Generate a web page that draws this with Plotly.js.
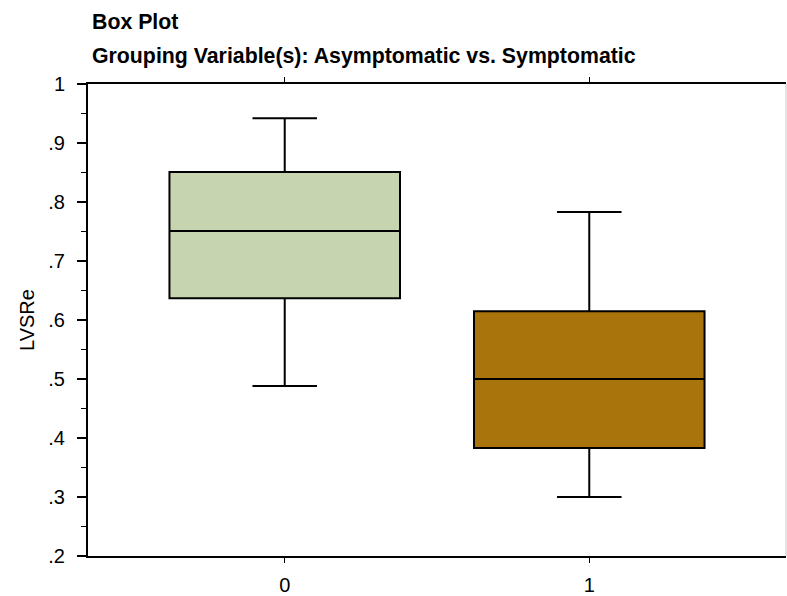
<!DOCTYPE html>
<html>
<head>
<meta charset="utf-8">
<script src="https://cdn.plot.ly/plotly-3.0.1.min.js"></script>
<style>
  html, body { margin: 0; padding: 0; background: #fff; }
  #chart { width: 787px; height: 596px; }
</style>
</head>
<body>
<div id="chart"></div>
<script>
// Group codes (0 = asymptomatic, 1 = symptomatic) and LVSRe summary statistics
const groups = [0, 1];
const groupLabels = ['0', '1'];
const lowerWhisker = [0.488, 0.300];
const q1 = [0.637, 0.383];
const median = [0.751, 0.500];
const q3 = [0.851, 0.615];
const upperWhisker = [0.942, 0.783];
const boxColors = ['#C6D5AF', '#A8740B'];

const yTickVals = [0.2, 0.3, 0.4, 0.5, 0.6, 0.7, 0.8, 0.9, 1];
const yTickText = ['.2', '.3', '.4', '.5', '.6', '.7', '.8', '.9', '1'];

const traces = groups.map((g, i) => ({
  type: 'box',
  x: [g],
  q1: [q1[i]],
  median: [median[i]],
  q3: [q3[i]],
  lowerfence: [lowerWhisker[i]],
  upperfence: [upperWhisker[i]],
  width: 0.757,
  whiskerwidth: 0.28,
  fillcolor: boxColors[i],
  line: { color: '#000', width: 2 },
  boxpoints: false,
  hoverinfo: 'skip',
  showlegend: false
}));

const font = 'Liberation Sans, Arial, sans-serif';

const layout = {
  width: 787,
  height: 596,
  margin: { l: 88, r: 1, t: 84, b: 40 },
  paper_bgcolor: '#fff',
  plot_bgcolor: '#fff',
  font: { family: font, size: 20, color: '#000' },
  boxmode: 'overlay',
  xaxis: {
    type: 'linear',
    range: [-0.646, 1.646],
    tickvals: groups,
    ticktext: groupLabels,
    ticks: 'outside',
    ticklen: 5,
    tickwidth: 1.5,
    tickcolor: '#000',
    showline: true,
    linecolor: '#000',
    linewidth: 2,
    mirror: 'ticks',
    showgrid: false,
    zeroline: false,
    tickfont: { family: font, size: 20 },
    ticklabelstandoff: 5
  },
  yaxis: {
    range: [0.2, 1],
    tickvals: yTickVals,
    ticktext: yTickText,
    ticks: 'outside',
    ticklen: 9,
    tickwidth: 1.5,
    tickcolor: '#000',
    minor: { dtick: 0.05, tick0: 0.2, ticks: 'outside', ticklen: 5, tickwidth: 1.5, tickcolor: '#000', showgrid: false },
    showline: true,
    linecolor: '#000',
    linewidth: 2,
    showgrid: false,
    zeroline: false,
    tickfont: { family: font, size: 20 },
    ticklabelstandoff: 8,
    title: { text: 'LVSRe', font: { family: font, size: 20 }, standoff: 8 }
  },
  shapes: [{
    type: 'line', xref: 'paper', yref: 'paper',
    x0: 1, x1: 1, y0: 0, y1: 1,
    line: { color: '#c8c8c8', width: 1 }
  }],
  annotations: [
    {
      text: '<b>Box Plot</b>', xref: 'paper', yref: 'paper',
      x: 0, y: 1, xanchor: 'left', yanchor: 'middle', xshift: 2, yshift: 62,
      showarrow: false, font: { family: font, size: 21.3, color: '#000' }
    },
    {
      text: '<b>Grouping Variable(s): Asymptomatic vs. Symptomatic</b>', xref: 'paper', yref: 'paper',
      x: 0, y: 1, xanchor: 'left', yanchor: 'middle', xshift: 2, yshift: 28,
      showarrow: false, font: { family: font, size: 21.3, color: '#000' }
    }
  ]
};

Plotly.newPlot('chart', traces, layout, { displayModeBar: false, staticPlot: true });
</script>
</body>
</html>
